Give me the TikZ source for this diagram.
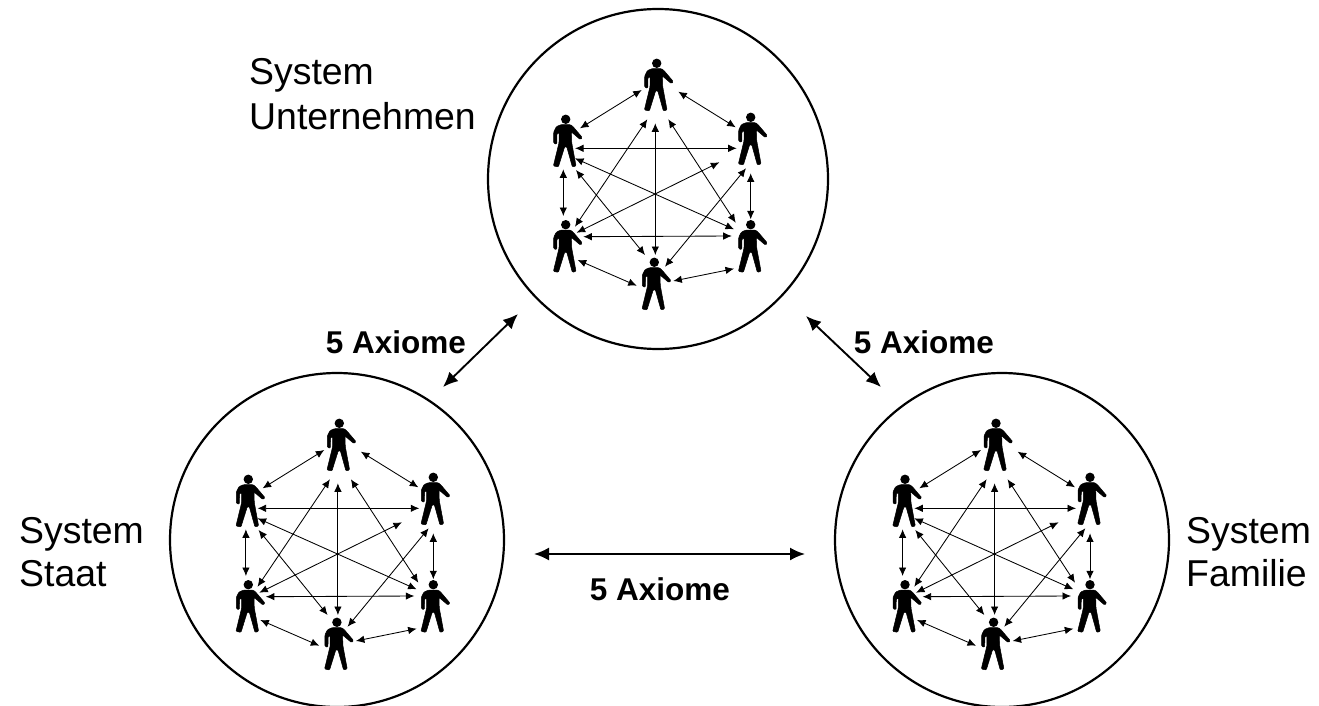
\documentclass[tikz,border=0pt]{standalone}
\usepackage{fontspec}
\setmainfont{Liberation Sans}
\usetikzlibrary{arrows.meta}
\tikzset{
  x=1pt,y=-1pt,
  ring/.style={draw=black,line width=2.2pt,circle,inner sep=0pt},
  conn/.style={line width=0.85pt,{Latex[length=8.5pt,width=7.5pt]}-{Latex[length=8.5pt,width=7.5pt]}},
  bigconn/.style={line width=1.9pt,{Latex[length=15pt,width=13pt]}-{Latex[length=15pt,width=13pt]}},
  lab/.style={font=\fontsize{37.4}{45.5}\selectfont,align=left,anchor=north west,inner sep=0pt},
  axiom/.style={font=\bfseries\fontsize{31.5}{36}\selectfont,inner sep=0pt}
}
\newcommand{\person}[2]{%
  \coordinate (#1) at (#2);
  \fill[black] (#1) circle (4.7);
  \filldraw[black,line width=0.5pt,rounded corners=1pt,shift={(#1)},x=0.3333pt,y=-0.3333pt]
    (-14,16) -- (14,16) -- (22,22) -- (50,55) -- (44,61) -- (17,38) -- (18,70) -- (31,140) -- (20,143) -- (3,82) -- (-3,82) -- (-22,143) -- (-37,140) -- (-20,70) -- (-20,40) -- (-26,42) -- (-27,75) -- (-36,72) -- (-36,38) -- (-28,22) -- cycle;
}
\newcommand{\ar}[3]{%
  \coordinate (#1s) at (#2);
  \coordinate (#1e) at (#3);
  \draw[conn] (#1s) -- (#1e);
}
\newcommand{\cluster}[3]{%
\begin{scope}[shift={(#2,#3)}]
  \person{#1p1}{126.7,23.3}
  \person{#1p2}{35.7,79.3}
  \person{#1p3}{220.7,77.3}
  \person{#1p4}{35.7,184.7}
  \person{#1p5}{220.7,184.7}
  \person{#1p6}{124.3,222.3}
  \ar{#1a}{111.7,50}{50,88.3}
  \ar{#1b}{148.3,51.7}{205.7,87.3}
  \ar{#1c}{125.3,83.3}{125.3,215}
  \ar{#1d}{117.3,79.3}{45,186.7}
  \ar{#1e}{138.3,79.3}{205.7,182.7}
  \ar{#1f}{45,108.3}{206.7,108.3}
  \ar{#1g}{33.3,129.3}{33.3,176}
  \ar{#1h}{45,118.3}{204,189.3}
  \ar{#1i}{46,130}{115,215}
  \ar{#1j}{189.3,122.3}{46.7,192.7}
  \ar{#1k}{220.7,133.3}{220.7,179.3}
  \ar{#1l}{216,128.3}{135,226.7}
  \ar{#1m}{53.3,196.7}{201.7,196}
  \ar{#1n}{47.7,220}{106.7,245.7}
  \ar{#1o}{204,228.7}{143.3,241}
\end{scope}
}
\begin{document}
\begin{tikzpicture}
\useasboundingbox (0,0) rectangle (1319,706);
\fill[white] (0,0) rectangle (1319,706);
\node[ring,minimum size=340pt] (top) at (658,179) {};
\node[ring,minimum size=334pt] (left) at (337,540) {};
\node[ring,minimum size=334pt] (right) at (1002,540) {};
\cluster{A}{530}{40}
\cluster{B}{212.6}{400}
\cluster{C}{869.3}{400}
\node[lab] (l1) at (249,58) {System\\Unternehmen};
\node[lab] (l2) at (19,517) {System\\[-2pt]Staat};
\node[lab] (l3) at (1186,517) {System\\[-2pt]Familie};
\node[axiom] (a1) at (396,342) {5 Axiome};
\node[axiom] (a2) at (924,342) {5 Axiome};
\node[axiom] (a3) at (660,589) {5 Axiome};
\coordinate (u1) at (518,314);
\coordinate (u2) at (443,387);
\coordinate (v1) at (806,316);
\coordinate (v2) at (881,387);
\coordinate (w1) at (534,554);
\coordinate (w2) at (805,554);
\draw[bigconn] (u1) -- (u2);
\draw[bigconn] (v1) -- (v2);
\draw[bigconn] (w1) -- (w2);
\end{tikzpicture}
\end{document}
